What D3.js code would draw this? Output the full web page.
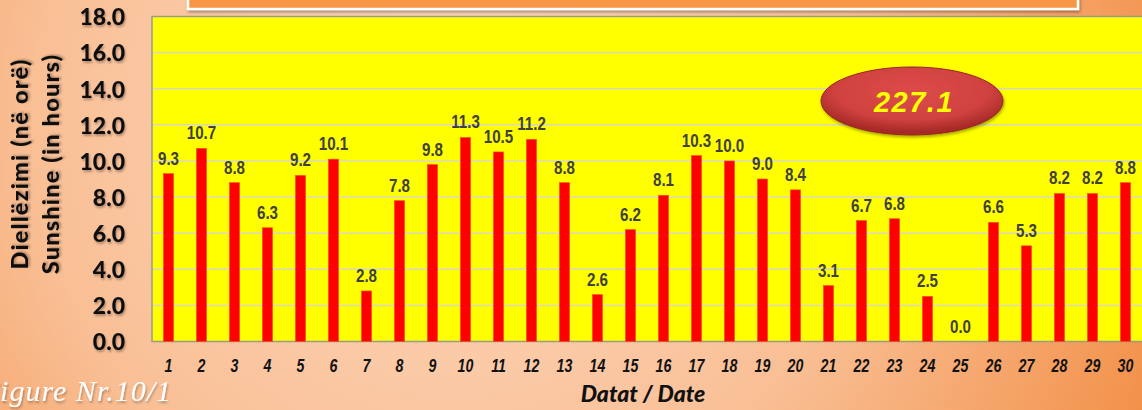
<!DOCTYPE html>
<html>
<head>
<meta charset="utf-8">
<script src="https://cdn.jsdelivr.net/npm/d3@7"></script>
<style>
  body { margin: 0; overflow: hidden; }
  svg { display: block; }
</style>
</head>
<body>
<div id="chart"></div>
<script>
const width = 1142, height = 410,
    margin = ({ top: 16.5, right: 0, bottom: 68, left: 152 });

// data
const dates = d3.range(1, 31).map(String);
const sunshine = [9.3, 10.7, 8.8, 6.3, 9.2, 10.1, 2.8, 7.8, 9.8, 11.3,
                  10.5, 11.2, 8.8, 2.6, 6.2, 8.1, 10.3, 10.0, 9.0, 8.4,
                  3.1, 6.7, 6.8, 2.5, 0.0, 6.6, 5.3, 8.2, 8.2, 8.8];
const yTicks = [0, 2, 4, 6, 8, 10, 12, 14, 16, 18];
const totalLabel = "227.1";
const yTitles = ["Diellëzimi (në orë)", "Sunshine (in hours)"];
const xTitle = "Datat / Date";
const figureLabel = "Figure Nr.10/1";

const data = dates.map((d, i) => ({ date: d, value: sunshine[i] }));

const svg = d3.select("#chart")
    .append("svg")
    .attr("width", width)
    .attr("height", height)
    .attr("viewBox", [0, 0, width, height]);

const defs = svg.append("defs");

// page background: peach in the middle, orange at the edges
const bg = defs.append("radialGradient")
    .attr("id", "bg")
    .attr("gradientUnits", "userSpaceOnUse")
    .attr("cx", 450).attr("cy", 120).attr("r", 760);
bg.append("stop").attr("offset", "0%").attr("stop-color", "#fdd9c0");
bg.append("stop").attr("offset", "55%").attr("stop-color", "#f9bf95");
bg.append("stop").attr("offset", "100%").attr("stop-color", "#f29048");

const ell = defs.append("radialGradient")
    .attr("id", "ell")
    .attr("cx", "50%").attr("cy", "35%").attr("r", "60%");
ell.append("stop").attr("offset", "0%").attr("stop-color", "#dc4a48");
ell.append("stop").attr("offset", "70%").attr("stop-color", "#d04240");
ell.append("stop").attr("offset", "100%").attr("stop-color", "#a82a28");

const shadow = defs.append("filter").attr("id", "shadow")
    .attr("x", "-20%").attr("y", "-20%").attr("width", "140%").attr("height", "160%");
shadow.append("feDropShadow")
    .attr("dx", 1).attr("dy", 2).attr("stdDeviation", 1.5)
    .attr("flood-color", "#000").attr("flood-opacity", 0.35);

const txtShadow = defs.append("filter").attr("id", "txtShadow")
    .attr("x", "-10%").attr("y", "-20%").attr("width", "120%").attr("height", "150%");
txtShadow.append("feDropShadow")
    .attr("dx", 1).attr("dy", 2).attr("stdDeviation", 1.2)
    .attr("flood-color", "#000").attr("flood-opacity", 0.3);

svg.append("rect")
    .attr("width", width).attr("height", height)
    .attr("fill", "url(#bg)");

// title box, mostly cut off above the picture
svg.append("rect")
    .attr("x", 188).attr("y", -30)
    .attr("width", 890).attr("height", 39)
    .attr("fill", "#f79646")
    .attr("stroke", "#fff").attr("stroke-width", 2.5)
    .attr("filter", "url(#shadow)");

let x = d3.scaleBand()
    .domain(dates)
    .range([margin.left, width - margin.right])
    .paddingInner(0.69)
    .paddingOuter(0.345);

let y = d3.scaleLinear()
    .domain([0, 18])
    .range([height - margin.bottom - 0.5, margin.top]);

// plot area
svg.append("rect")
    .attr("x", margin.left).attr("y", y(18))
    .attr("width", width - margin.right - margin.left + 2)
    .attr("height", y(0) - y(18))
    .attr("fill", "#ffff00")
    .attr("stroke", "#9a9a8a").attr("stroke-width", 1.5);

// gridlines
svg.append("g")
    .selectAll("line")
    .data(yTicks.filter(t => t > 0 && t < 18))
    .join("line")
      .attr("x1", margin.left + 1).attr("x2", width)
      .attr("y1", d => y(d)).attr("y2", d => y(d))
      .attr("stroke", "#d8d8c0").attr("stroke-width", 1.5);

// y axis labels
svg.append("g")
    .attr("transform", `translate(125,0)`)
    .call(d3.axisLeft(y).tickValues(yTicks).tickFormat(d3.format(".1f")).tickSize(0).tickPadding(0))
    .call(g => g.select(".domain").remove())
    .call(g => g.selectAll("text")
        .attr("font-family", "Lato, 'Open Sans', sans-serif")
        .attr("font-weight", 900)
        .attr("font-size", 23)
        .attr("fill", "#111")
        .attr("dy", "0.36em")
        .attr("filter", "url(#txtShadow)"));

// x axis labels (squeezed a little, like a narrow face)
svg.append("g")
    .attr("transform", `translate(0,${y(0)})`)
    .call(d3.axisBottom(x).tickSize(0).tickPadding(0))
    .call(g => g.select(".domain").remove())
    .call(g => g.selectAll("text")
        .attr("y", 0)
        .attr("dy", 0)
        .attr("transform", "translate(0,30) scale(0.86,1.08)")
        .attr("font-family", "'Liberation Sans', Arial, sans-serif")
        .attr("font-style", "italic")
        .attr("font-weight", "bold")
        .attr("font-size", 16.5)
        .attr("fill", "#111"));

// bars
svg.append("g")
    .selectAll("rect")
    .data(data)
    .join("rect")
      .attr("x", d => x(d.date))
      .attr("y", d => y(d.value))
      .attr("width", x.bandwidth())
      .attr("height", d => y(0) - y(d.value))
      .attr("fill", "#ff0000")
      .attr("stroke", "#f05a10").attr("stroke-width", 0.6);

// value labels
svg.append("g")
    .selectAll("text")
    .data(data)
    .join("text")
      .attr("transform", d => `translate(${x(d.date) + x.bandwidth() / 2},${y(d.value) - 9}) scale(0.82,1)`)
      .attr("text-anchor", "middle")
      .attr("font-family", "'Liberation Sans', Arial, sans-serif")
      .attr("font-weight", "bold")
      .attr("font-size", 18.5)
      .attr("fill", "#404040")
      .text(d => d.value.toFixed(1));

// total badge
svg.append("ellipse")
    .attr("cx", 912).attr("cy", 101)
    .attr("rx", 91).attr("ry", 34)
    .attr("fill", "url(#ell)")
    .attr("stroke", "#9a2422").attr("stroke-width", 1)
    .attr("filter", "url(#shadow)");

svg.append("text")
    .attr("x", 914).attr("y", 112)
    .attr("text-anchor", "middle")
    .attr("font-family", "'Liberation Sans', Arial, sans-serif")
    .attr("font-style", "italic")
    .attr("font-weight", "bold")
    .attr("font-size", 29)
    .attr("letter-spacing", 1.5)
    .attr("fill", "#ffff00")
    .text(totalLabel);

// y titles
svg.selectAll(".y-title")
    .data(yTitles)
    .join("text")
      .attr("class", "y-title")
      .attr("transform", (d, i) => `translate(${28 + i * 31},164) rotate(-90)`)
      .attr("text-anchor", "middle")
      .attr("font-family", "Lato, 'Open Sans', sans-serif")
      .attr("font-weight", 900)
      .attr("font-size", 23.5)
      .attr("letter-spacing", 1.2)
      .attr("fill", "#111")
      .attr("filter", "url(#txtShadow)")
      .text(d => d);

// x title
svg.append("text")
    .attr("x", 643).attr("y", 402)
    .attr("text-anchor", "middle")
    .attr("font-family", "Lato, 'Open Sans', sans-serif")
    .attr("font-style", "italic")
    .attr("font-weight", 900)
    .attr("font-size", 23)
    .attr("fill", "#111")
    .text(xTitle);

// figure label, partly cut off on the left as in the source
svg.append("text")
    .attr("x", 172).attr("y", 401)
    .attr("text-anchor", "end")
    .attr("font-family", "'Liberation Serif', 'DejaVu Serif', serif")
    .attr("font-style", "italic")
    .attr("font-size", 30)
    .attr("letter-spacing", 1)
    .attr("fill", "#fff")
    .attr("filter", "url(#txtShadow)")
    .text(figureLabel);
</script>
</body>
</html>
